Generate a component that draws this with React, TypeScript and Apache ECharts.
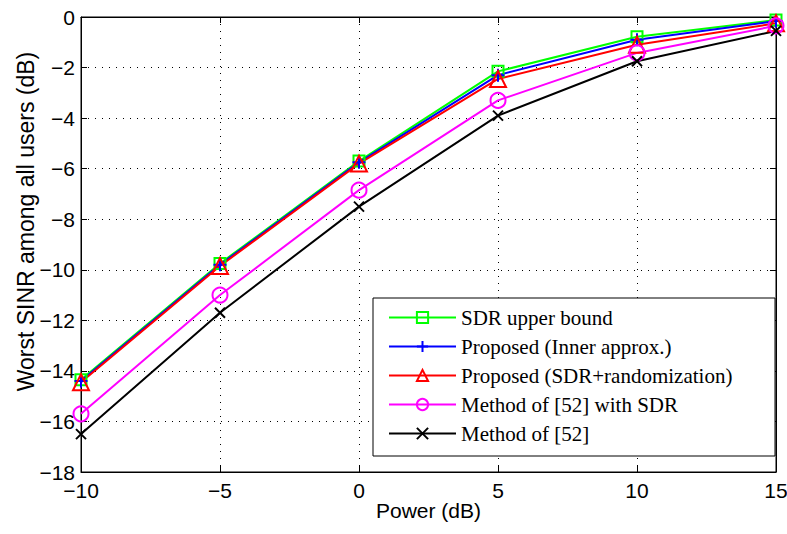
import React, { useEffect, useRef } from "react";
import * as echarts from "echarts";

const powerDb = [-10, -5, 0, 5, 10, 15];
const sdrUpperBound = [-14.35, -9.75, -5.7, -2.15, -0.78, -0.12];
const proposedInner = [-14.4, -9.8, -5.75, -2.3, -0.9, -0.16];
const proposedSdrRand = [-14.45, -9.85, -5.8, -2.45, -1.1, -0.25];
const method52Sdr = [-15.7, -11.0, -6.85, -3.3, -1.42, -0.35];
const method52 = [-16.5, -11.7, -7.5, -3.9, -1.75, -0.55];

const seriesNames = [
  "SDR upper bound",
  "Proposed (Inner approx.)",
  "Proposed (SDR+randomization)",
  "Method of [52] with SDR",
  "Method of [52]",
];

const PLUS = "path://M5,0L5,10M0,5L10,5";
const CROSS = "path://M0,0L10,10M10,0L0,10";

export default function App() {
  const ref = useRef<HTMLDivElement>(null);
  useEffect(() => {
    if (!ref.current) return;
    const chart = echarts.init(ref.current, null, { renderer: "svg" });
    const mk = (
      name: string,
      data: number[],
      color: string,
      symbol: string,
      size: number
    ) => ({
      name,
      type: "line",
      data: powerDb.map((x, i) => [x, data[i]]),
      symbol,
      symbolSize: size,
      showSymbol: true,
      lineStyle: { color, width: 2 },
      itemStyle: { color: "none", borderColor: color, borderWidth: 2 },
      emphasis: { disabled: true },
    });
    const sans = "'Liberation Sans', Arial, Helvetica, sans-serif";
    const minus = (v: number) => String(v).replace("-", "\u2212");
    chart.setOption({
      animation: false,
      backgroundColor: "#fff",
      grid: {
        left: 81,
        right: 11,
        top: 17,
        bottom: 62,
        outerBoundsMode: "none",
        containLabel: false,
        show: true,
        borderColor: "#000",
        borderWidth: 1,
        backgroundColor: "transparent",
      },
      legend: {
        orient: "vertical",
        left: 373,
        top: 298,
        width: 394,
        padding: [9, 14, 12, 15],
        backgroundColor: "#fff",
        borderColor: "#000",
        borderWidth: 1,
        itemWidth: 67,
        itemHeight: 14,
        itemGap: 8,
        data: seriesNames,
        textStyle: {
          fontFamily: "'Liberation Serif', 'Times New Roman', serif",
          fontSize: 21,
          lineHeight: 21,
          color: "#000",
          width: 300,
        },
      },
      xAxis: [
        {
          type: "value",
          min: -10,
          max: 15,
          interval: 5,
          name: "Power (dB)",
          nameLocation: "middle",
          nameGap: 28,
          nameMoveOverlap: false,
          nameTextStyle: { fontFamily: sans, fontSize: 21, color: "#000", verticalAlign: "top" },
          axisLine: { show: true, onZero: false, lineStyle: { color: "#000" } },
          axisTick: { inside: true, length: 6, lineStyle: { color: "#000" } },
          axisLabel: {
            fontFamily: sans,
            fontSize: 21,
            color: "#000",
            margin: 8,
            formatter: minus,
          },
          splitLine: {
            show: true,
            lineStyle: { color: "#000", type: [1, 6], width: 1 },
          },
        },
        {
          type: "value",
          position: "top",
          min: -10,
          max: 15,
          interval: 5,
          axisLine: { show: true, onZero: false, lineStyle: { color: "#000" } },
          axisTick: { inside: true, length: 6, lineStyle: { color: "#000" } },
          axisLabel: { show: false },
          splitLine: { show: false },
        },
      ],
      yAxis: [
        {
          type: "value",
          min: -18,
          max: 0,
          interval: 2,
          name: "Worst SINR among all users (dB)",
          nameLocation: "middle",
          nameGap: 44,
          nameMoveOverlap: false,
          nameTextStyle: {
            fontFamily: sans,
            fontSize: 23,
            color: "#000",
            padding: [0, 0, 0, 46],
          },
          axisLine: { show: true, onZero: false, lineStyle: { color: "#000" } },
          axisTick: { inside: true, length: 6, lineStyle: { color: "#000" } },
          axisLabel: {
            fontFamily: sans,
            fontSize: 21,
            color: "#000",
            margin: 6,
            formatter: minus,
          },
          splitLine: {
            show: true,
            lineStyle: { color: "#000", type: [1, 6], width: 1 },
          },
        },
        {
          type: "value",
          position: "right",
          min: -18,
          max: 0,
          interval: 2,
          axisLine: { show: true, onZero: false, lineStyle: { color: "#000" } },
          axisTick: { inside: true, length: 6, lineStyle: { color: "#000" } },
          axisLabel: { show: false },
          splitLine: { show: false },
        },
      ],
      series: [
        mk(seriesNames[0], sdrUpperBound, "#00ff00", "rect", 11),
        mk(seriesNames[1], proposedInner, "#0000ff", PLUS, 13),
        mk(seriesNames[2], proposedSdrRand, "#ff0000", "triangle", 16),
        mk(seriesNames[3], method52Sdr, "#ff00ff", "circle", 15),
        mk(seriesNames[4], method52, "#000000", CROSS, 10),
      ],
    });
    return () => chart.dispose();
  }, []);
  return (
    <div
      ref={ref}
      style={{ position: "absolute", left: 0, top: 0, width: 787, height: 534 }}
    />
  );
}
